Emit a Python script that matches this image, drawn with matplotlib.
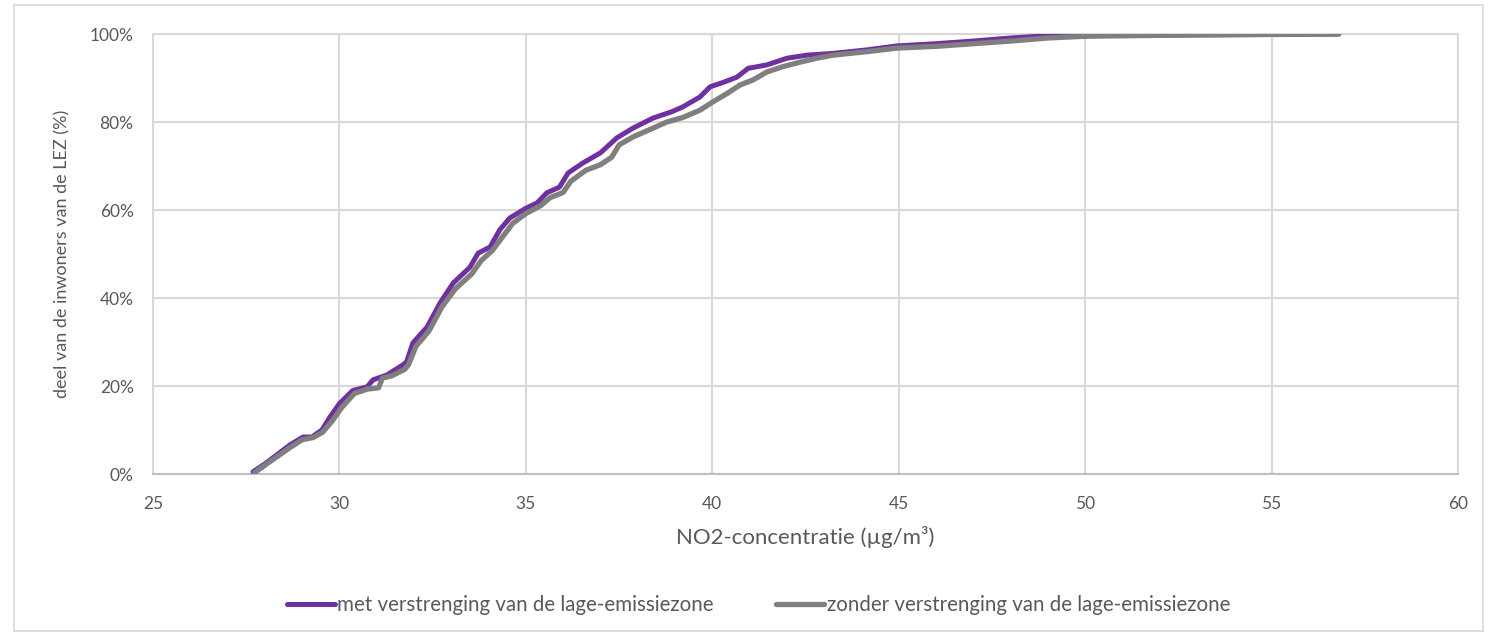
import matplotlib
matplotlib.use("Agg")
import matplotlib.pyplot as plt
from matplotlib.patches import Rectangle
from matplotlib.ticker import FuncFormatter

# met verstrenging van de LEZ
met_x = [27.68, 28.0, 28.67, 29.02, 29.26, 29.53, 29.75, 30.0, 30.36, 30.74, 30.9,
         31.27, 31.7, 31.8, 31.97, 32.35, 32.7, 33.05, 33.5, 33.72, 34.04, 34.3,
         34.57, 35.0, 35.3, 35.56, 35.9, 36.13, 36.53, 37.0, 37.44, 37.87, 38.41,
         38.9, 39.2, 39.67, 39.94, 40.29, 40.66, 40.96, 41.47, 42.0, 42.54, 43.24,
         44.15, 44.95, 46.0, 47.0, 48.0, 49.0, 50.0, 52.0, 55.0, 56.8]
met_y = [0.5, 2.3, 6.6, 8.4, 8.4, 10.0, 13.0, 16.0, 19.0, 19.8, 21.4,
         22.5, 24.8, 25.5, 29.8, 33.4, 38.9, 43.4, 47.0, 50.2, 51.6, 55.5,
         58.2, 60.4, 61.6, 63.9, 65.2, 68.4, 70.7, 73.0, 76.4, 78.6, 80.9,
         82.3, 83.4, 85.7, 88.0, 89.0, 90.2, 92.2, 93.0, 94.5, 95.2, 95.6,
         96.4, 97.3, 97.8, 98.4, 99.1, 99.6, 99.7, 99.8, 99.9, 100.0]

# zonder verstrenging van de LEZ
zonder_x = [27.72, 28.0, 28.67, 29.0, 29.3, 29.55, 29.8, 30.05, 30.4, 30.75, 31.05,
            31.15, 31.4, 31.75, 31.85, 32.05, 32.4, 32.75, 33.1, 33.55, 33.8, 34.1,
            34.4, 34.65, 35.0, 35.4, 35.65, 36.0, 36.2, 36.6, 37.0, 37.3, 37.5,
            37.87, 38.3, 38.78, 39.2, 39.67, 40.0, 40.4, 40.74, 41.1, 41.47, 41.9,
            42.35, 42.8, 43.24, 44.15, 44.95, 46.0, 47.0, 48.0, 49.0, 50.0, 52.0,
            55.0, 56.8]
zonder_y = [0.3, 2.0, 6.0, 7.8, 8.3, 9.5, 12.0, 15.0, 18.3, 19.3, 19.6,
            21.8, 22.3, 23.8, 24.8, 29.0, 32.5, 38.0, 42.0, 45.5, 48.5, 50.8,
            54.2, 57.0, 59.2, 61.0, 62.8, 64.0, 66.5, 69.0, 70.3, 72.0, 74.8,
            76.6, 78.2, 80.0, 81.0, 82.7, 84.5, 86.5, 88.4, 89.6, 91.4, 92.6,
            93.6, 94.5, 95.2, 96.0, 96.8, 97.2, 97.8, 98.4, 99.1, 99.5, 99.7,
            99.9, 100.0]

x_ticks = [25, 30, 35, 40, 45, 50, 55, 60]
y_ticks = [0, 20, 40, 60, 80, 100]

plt.rcParams['font.family'] = ['Lato', 'DejaVu Sans']
text_col = '#595959'
grid_col = '#D9D9D9'

fig = plt.figure(figsize=(14.96, 6.36), dpi=100)
ax = fig.add_axes([0.1023, 0.2547, 0.8723, 0.6918])

# outer border of the chart
fig.patches.append(Rectangle((14 / 1496, 1 - 631 / 636), 1469 / 1496, 626 / 636,
                             transform=fig.transFigure, fill=False,
                             edgecolor=grid_col, linewidth=1.2))

ax.plot(met_x, met_y, color='#7030A0', lw=3.6, solid_capstyle='round',
        label='met verstrenging van de lage-emissiezone', zorder=3)
ax.plot(zonder_x, zonder_y, color='#7F7F7F', lw=3.8, solid_capstyle='round',
        label='zonder verstrenging van de lage-emissiezone', zorder=4)

ax.set_xlim(25, 60)
ax.set_ylim(0, 100)
ax.set_xticks(x_ticks)
ax.set_yticks(y_ticks)
ax.yaxis.set_major_formatter(FuncFormatter(lambda v, p: f"{v:.0f}%"))
ax.grid(True, color=grid_col, linewidth=1.5)
ax.set_axisbelow(True)
for s in ['top', 'left', 'right']:
    ax.spines[s].set_color(grid_col)
    ax.spines[s].set_linewidth(1.5)
ax.spines['bottom'].set_color('#BFBFBF')
ax.spines['bottom'].set_linewidth(1.5)
ax.tick_params(length=0, labelsize=12.5, labelcolor=text_col)
ax.tick_params(axis='x', pad=16)
ax.tick_params(axis='y', pad=14)

ax.set_xlabel('NO2-concentratie (µg/m³)', fontsize=16, color=text_col, labelpad=10)
ax.set_ylabel('deel van de inwoners van de LEZ (%)', fontsize=13, color=text_col, labelpad=14)

leg = ax.legend(loc='center', bbox_to_anchor=(0.464, -0.298), ncol=2, frameon=False,
                fontsize=14.8, handlelength=2.33, handletextpad=0.12, columnspacing=3.05)
for t in leg.get_texts():
    t.set_color(text_col)

fig.savefig('out.png', dpi=100)
